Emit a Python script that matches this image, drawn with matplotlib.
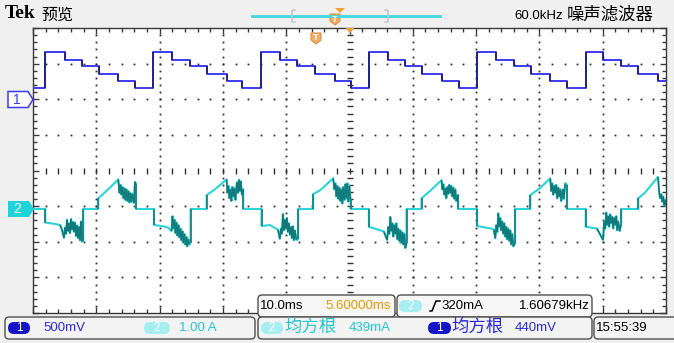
import numpy as np
import matplotlib.pyplot as plt
from matplotlib.patches import FancyBboxPatch, Polygon
from matplotlib.collections import LineCollection

W, H = 674, 343

# channel 1: step edges (ms) and level after each edge (V), 500mV/div
ch1_t = [0.00, 1.94, 5.06, 7.69, 10.43, 13.48, 16.11,
         19.00, 21.91, 24.80, 27.54, 30.60, 33.06,
         36.02, 39.02, 41.75, 44.55, 47.71, 50.19,
         53.08, 56.08, 58.77, 61.45, 64.57, 67.30,
         70.19, 73.19, 75.99, 78.63, 81.67, 84.41,
         87.31, 90.09, 92.84, 95.58, 98.74, 100.0]
ch1_v = [0.16, 0.66, 0.55, 0.46, 0.36, 0.26, 0.16,
         0.66, 0.55, 0.46, 0.36, 0.26, 0.16,
         0.66, 0.55, 0.46, 0.36, 0.26, 0.16,
         0.66, 0.55, 0.46, 0.36, 0.26, 0.16,
         0.66, 0.55, 0.46, 0.36, 0.26, 0.16,
         0.66, 0.55, 0.46, 0.36, 0.26, 0.26]

# channel 2: current trace (ms, A), 1.00A/div
ch2_t = [0.00, 1.94, 1.94, 3.47, 4.26, 4.58, 4.90, 5.05, 5.21, 5.37, 5.53, 5.68, 5.84, 6.00,
         6.16, 6.32, 6.47, 6.63, 6.79, 6.95, 7.11, 7.26, 7.42, 7.58, 7.74, 7.94, 7.94,
         10.31, 10.31, 11.21, 12.16, 13.47, 13.66, 13.82, 13.97, 14.13, 14.29, 14.45, 14.61,
         14.76, 14.92, 15.08, 15.24, 15.39, 15.55, 15.71, 15.95, 16.11, 16.27, 16.27,
         19.11, 19.11, 20.37, 21.32, 21.88, 22.03, 22.19, 22.35, 22.51, 22.66, 22.82, 22.98,
         23.13, 23.29, 23.45, 23.61, 23.76, 23.92, 24.08, 24.24, 24.36, 24.55, 24.71, 24.90, 24.90,
         27.43, 27.43, 28.74, 30.59, 30.71, 30.87, 31.03, 31.19, 31.34, 31.50, 31.66, 31.82,
         31.98, 32.21, 32.37, 32.53, 32.69, 32.84, 33.00, 33.21, 33.21,
         36.11, 36.11, 37.42, 38.69, 39.00, 39.16, 39.32, 39.48, 39.63, 39.79, 39.95, 40.11,
         40.26, 40.42, 40.58, 40.74, 40.90, 41.05, 41.21, 41.37, 41.61, 41.89, 41.89,
         44.26, 44.26, 45.32, 47.42, 47.61, 47.77, 47.93, 48.08, 48.24, 48.40, 48.56, 48.71,
         48.87, 49.03, 49.19, 49.35, 49.51, 49.66, 49.82, 49.98, 50.17, 50.17,
         53.06, 53.06, 55.42, 55.94, 56.13, 56.29, 56.45, 56.61, 56.77, 56.92, 57.08, 57.24,
         57.40, 57.56, 57.71, 57.87, 58.03, 58.19, 58.35, 58.50, 58.66, 58.82, 59.01, 59.01,
         61.38, 61.38, 62.69, 64.54, 64.66, 64.82, 64.98, 65.14, 65.29, 65.45, 65.61, 65.77,
         65.93, 66.08, 66.24, 66.40, 66.56, 66.71, 66.87, 67.16, 67.16,
         70.16, 70.16, 72.43, 72.79, 73.03, 73.19, 73.35, 73.50, 73.66, 73.82, 73.98, 74.13,
         74.29, 74.45, 74.61, 74.77, 74.92, 75.08, 75.24, 75.40, 75.56, 75.71, 75.87, 76.16, 76.16,
         78.56, 78.56, 80.06, 81.71, 81.87, 82.03, 82.19, 82.34, 82.50, 82.66, 82.82, 82.98,
         83.13, 83.29, 83.45, 83.69, 83.85, 84.08, 84.37, 84.37,
         87.32, 87.32, 89.10, 90.05, 90.24, 90.40, 90.56, 90.71, 90.87, 91.03, 91.19, 91.35,
         91.51, 91.66, 91.82, 91.98, 92.14, 92.30, 92.45, 92.69, 92.93, 92.93,
         95.62, 95.62, 96.64, 98.74, 98.93, 99.09, 99.25, 99.40, 99.56, 99.72, 99.87, 100.0]
ch2_i = [0, 0, -0.38, -0.42, -0.45, -0.58, -0.81, -0.52, -0.70, -0.30, -0.62, -0.40, -0.68, -0.28,
         -0.58, -0.36, -0.64, -0.38, -0.76, -0.46, -0.82, -0.50, -0.88, -0.35, -0.92, -0.90, 0,
         0, 0.30, 0.44, 0.60, 0.83, 0.45, 0.68, 0.40, 0.62, 0.30, 0.58, 0.25,
         0.55, 0.22, 0.50, 0.18, 0.45, 0.20, 0.42, 0.17, 0.76, 0.70, 0,
         0, -0.45, -0.48, -0.52, -0.62, -0.20, -0.55, -0.30, -0.68, -0.38, -0.75, -0.45,
         -0.80, -0.55, -0.88, -0.62, -0.95, -0.70, -1.00, -0.78, -1.05, -0.85, -1.00, -0.95, 0,
         0, 0.39, 0.55, 0.83, 0.45, 0.65, 0.30, 0.55, 0.22, 0.62, 0.35, 0.58,
         0.25, 0.75, 0.45, 0.82, 0.50, 0.78, 0.40, 0.55, 0,
         0, -0.48, -0.45, -0.58, -0.84, -0.55, -0.70, -0.14, -0.60, -0.30, -0.55, -0.25,
         -0.65, -0.40, -0.72, -0.50, -0.82, -0.48, -0.88, -0.60, -0.87, -0.85, 0,
         0, 0.42, 0.52, 0.86, 0.55, 0.72, 0.35, 0.65, 0.28, 0.60, 0.22, 0.55,
         0.15, 0.62, 0.25, 0.70, 0.30, 0.72, 0.20, 0.65, 0.25, 0,
         0, -0.50, -0.63, -0.87, -0.50, -0.70, -0.22, -0.62, -0.40, -0.78, -0.45, -0.70,
         -0.40, -0.85, -0.55, -0.90, -0.60, -0.95, -0.65, -1.00, -0.70, -1.10, -0.95, 0,
         0, 0.30, 0.50, 0.81, 0.55, 0.70, 0.40, 0.58, 0.30, 0.62, 0.42, 0.68,
         0.45, 0.65, 0.35, 0.60, 0.28, 0.55, 0.22, 0.40, 0,
         0, -0.48, -0.55, -0.58, -0.82, -0.45, -0.65, -0.12, -0.50, -0.25, -0.60, -0.35,
         -0.70, -0.40, -0.78, -0.50, -0.85, -0.55, -0.90, -0.60, -1.00, -0.70, -1.05, -0.95, 0,
         0, 0.39, 0.58, 0.86, 0.50, 0.72, 0.40, 0.65, 0.45, 0.68, 0.30, 0.60,
         0.35, 0.55, 0.22, 0.55, 0.28, 0.72, 0.68, 0,
         0, -0.50, -0.55, -0.87, -0.35, -0.55, -0.10, -0.45, -0.20, -0.50, -0.15, -0.40,
         -0.22, -0.55, -0.25, -0.45, -0.20, -0.60, -0.35, -0.62, -0.40, 0,
         0, 0.30, 0.45, 0.90, 0.45, 0.30, 0.42, 0.20, 0.35, 0.10, 0.25, 0.08]

CH1_SCALE, CH1_POS = 0.5, 2.0     # V/div, divisions
CH2_SCALE, CH2_POS = 1.0, -1.08   # A/div, divisions

BLUE = '#3c3cef'
BLUE_DK = '#1c1c70'
CYAN = '#2ad4da'
TEAL = '#127878'
ORANGE = '#f0a030'
SANS = ['Liberation Sans', 'DejaVu Sans']
CJK = ['Noto Sans CJK SC', 'DejaVu Sans']

fig = plt.figure(figsize=(W / 100, H / 100), dpi=100, facecolor='#f0f0f0')

# graticule
ax = fig.add_axes([33 / W, 30 / H, 633 / W, 285 / H], zorder=1)
ax.set_facecolor('white')
ax.set_xlim(0, 100)
ax.set_ylim(-4, 4)
for s in ax.spines.values():
    s.set_color('#3a3a3a')
    s.set_linewidth(1.0)
ax.set_xticks(np.arange(0, 101, 10))
ax.set_xticks(np.arange(0, 101, 2), minor=True)
ax.set_yticks(np.arange(-4, 5, 1))
ax.set_yticks(np.arange(-4, 4.01, 0.2), minor=True)
ax.tick_params(which='both', direction='in', top=True, right=True,
               labelbottom=False, labelleft=False, color='#3a3a3a', width=1)
ax.tick_params(which='major', length=4)
ax.tick_params(which='minor', length=3)

ydots = np.arange(-3.8, 3.81, 0.2)
xdots = np.arange(2, 99, 2)
for gx in [10, 20, 30, 40, 60, 70, 80, 90]:
    ax.plot([gx] * len(ydots), ydots, ls='none', marker='s', ms=1.3, mew=0, color='#303030')
for gy in [-3, -2, -1, 1, 2, 3]:
    ax.plot(xdots, [gy] * len(xdots), ls='none', marker='s', ms=1.3, mew=0, color='#303030')
ax.plot([50] * len(ydots), ydots, ls='none', marker='_', ms=5, mew=1, color='#303030')
ax.plot(xdots, [0] * len(xdots), ls='none', marker='|', ms=5, mew=1, color='#303030')

# channel 1
y1 = CH1_POS + np.array(ch1_v) / CH1_SCALE
ax.plot(ch1_t, y1, drawstyle='steps-post', color=BLUE, lw=1.4, zorder=3)
ax.vlines(ch1_t[1:-1], y1[:-2], y1[1:-1], color=BLUE_DK, lw=1.1, zorder=4)

# channel 2, steep parts darker like the scope's intensity grading
t2 = np.array(ch2_t)
y2 = CH2_POS + np.array(ch2_i) / CH2_SCALE
pts = np.column_stack([t2, y2])
segs = np.stack([pts[:-1], pts[1:]], axis=1)
dx_px = np.abs(np.diff(t2)) * 6.33
dy_px = np.abs(np.diff(y2)) * 35.6
steep = dy_px > 1.5 * dx_px
ax.plot(t2, y2, color=CYAN, lw=1.5, zorder=3)
ax.add_collection(LineCollection(segs[steep], colors=TEAL, linewidths=1.1, zorder=4))

# overlay for the screen furniture (pixel coordinates)
fg = fig.add_axes([0, 0, 1, 1], zorder=5)
fg.set_xlim(0, W)
fg.set_ylim(H, 0)
fg.axis('off')
fg.patch.set_alpha(0)


def txt(x, y, s, size, color='black', ha='left', family=SANS, **kw):
    fg.text(x, y, s, fontsize=size, color=color, ha=ha, va='center', family=family, **kw)


def box(x0, y0, x1, y1, fc='#f3f3f3'):
    fg.add_patch(FancyBboxPatch((x0, y0), x1 - x0, y1 - y0,
                                boxstyle='round,pad=0,rounding_size=4',
                                ec='#505050', fc=fc, lw=1.0))


def badge(x0, x1, yc, color, label):
    fg.add_patch(FancyBboxPatch((x0, yc - 6), x1 - x0, 12,
                                boxstyle='round,pad=0,rounding_size=6',
                                ec='none', fc=color))
    txt((x0 + x1) / 2, yc, label, 8.5, color='white', ha='center')


def shield(xc, ytop, size=10):
    h = size / 2
    fg.add_patch(Polygon([(xc - h, ytop), (xc + h, ytop), (xc + h, ytop + 7),
                          (xc, ytop + 11), (xc - h, ytop + 7)],
                         closed=True, fc='#f2ac68', ec='#e09040', lw=0.8))
    txt(xc, ytop + 5, 'T', 6.5, color='white', ha='center', weight='bold')


# top bar
txt(5, 14, 'Tek', 14, family=['Liberation Serif', 'DejaVu Serif'], weight='bold')
txt(41, 15, '预览', 11.5, family=CJK)
txt(514, 16, '60.0kHz', 9.5)
txt(567, 15, '噪声滤波器', 12.5, family=CJK)

fg.plot([252, 440], [15.5, 15.5], color='#40d8de', lw=2)
fg.plot([295, 292, 292, 295], [10, 10, 22, 22], color='#c8c8c8', lw=1.2)
fg.plot([385, 388, 388, 385], [10, 10, 22, 22], color='#c8c8c8', lw=1.2)
fg.add_patch(Polygon([(335, 8), (345, 8), (340, 13)], closed=True, fc=ORANGE, ec='none'))
shield(335, 14)
fg.add_patch(Polygon([(345.5, 28), (354.5, 28), (350, 33)], closed=True, fc=ORANGE, ec='none'))
shield(316, 33)

# channel markers
fg.add_patch(Polygon([(8, 91.5), (28, 91.5), (33, 99.5), (28, 107.5), (8, 107.5)],
                     closed=True, fc='white', ec=BLUE, lw=1.1))
txt(16.5, 99.5, '1', 10, color=BLUE, ha='center')
fg.add_patch(Polygon([(8, 201), (29, 201), (34, 209), (29, 217), (8, 217)],
                     closed=True, fc='#1ed4da', ec='none'))
txt(17.5, 209, '2', 10, color='white', ha='center')

# bottom readouts
box(258, 295, 395, 317, fc='#f6f6f6')
box(397, 295, 592, 317, fc='#f6f6f6')
txt(260, 306, '10.0ms', 9.5)
txt(391, 306, '5.60000ms', 9.5, color='#e89a00', ha='right')
badge(399, 422, 306, '#a6eef0', '2')
fg.plot([430, 432, 436, 440], [311, 311, 301, 301], color='black', lw=1.1)
txt(441, 306, '320mA', 9.5)
txt(590, 306, '1.60679kHz', 9.5, ha='right')

box(5, 317, 255, 339)
box(258, 317, 592, 339)
box(594, 317, 680, 339)
badge(8, 30, 328, '#1515c8', '1')
txt(43, 328, '500mV', 9.5, color='#2a2ad8')
badge(144, 170, 328, '#a6eef0', '2')
txt(179, 328, '1.00 A', 9.5, color='#20c8d2')
badge(261, 283, 328, '#a6eef0', '2')
txt(284, 327, '均方根', 12.5, color='#20c8d2', family=CJK)
txt(349, 328, '439mA', 9.5, color='#20c8d2')
badge(428, 451, 328, '#1515c8', '1')
txt(451, 327, '均方根', 12.5, color='#2a2ad8', family=CJK)
txt(515, 328, '440mV', 9.5, color='#2a2ad8')
txt(596, 328, '15:55:39', 9.5)

fig.savefig('out.png', dpi=100, facecolor=fig.get_facecolor())
